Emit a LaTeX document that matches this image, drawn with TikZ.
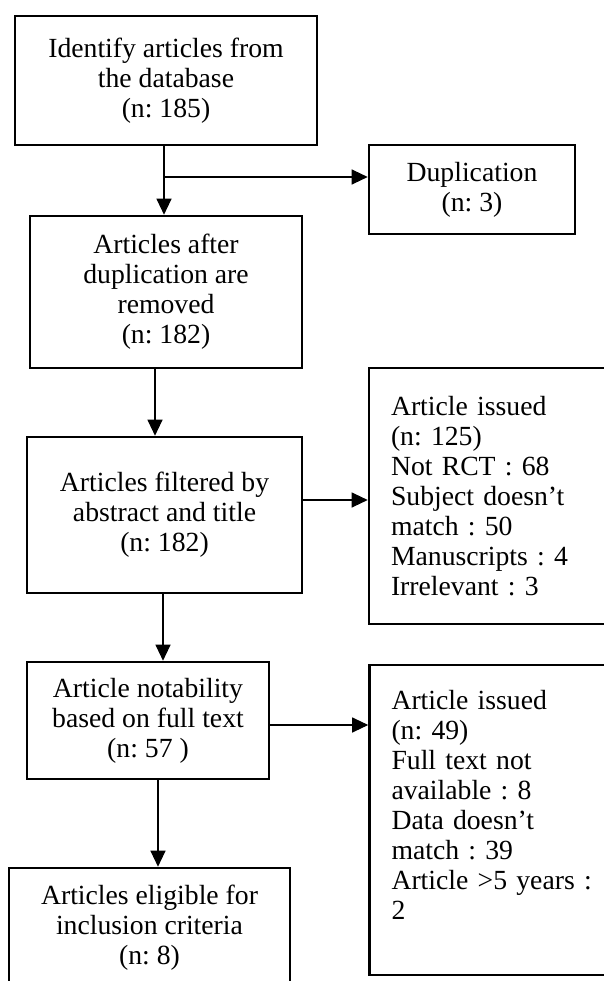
\documentclass[tikz,border=0pt]{standalone}
\usepackage{fontspec}
\setmainfont{Liberation Serif}
\frenchspacing
\usetikzlibrary{arrows.meta}
\tikzset{
  box/.style={draw=black, line width=2.6pt, rectangle, inner sep=0pt, align=center,
    font=\fontsize{27.7}{30}\selectfont\frenchspacing},
  lbox/.style={box, align=left, inner xsep=22pt, text width=215pt},
  arr/.style={draw=black, line width=1.1pt, -{Triangle[length=16pt,width=15pt]}}
}
\begin{document}
\begin{tikzpicture}[x=1pt,y=-1pt]
\useasboundingbox (0,0) rectangle (604,981);
\clip (0,0) rectangle (604,981);
\fill[white] (0,0) rectangle (604,981);

\node[box, minimum width=302pt, minimum height=129pt] (b1) at (166,80.5)
  {Identify articles from\\the database\\(n: 185)};
\node[box, minimum width=206pt, minimum height=89pt] (dup) at (472,189.5)
  {Duplication\\(n: 3)};
\node[box, minimum width=272pt, minimum height=152pt] (b2) at (166,292)
  {Articles after\\duplication are\\removed\\(n: 182)};
\node[box, minimum width=275pt, minimum height=156pt] (b3) at (164.5,515)
  {Articles filtered by\\abstract and title\\(n: 182)};
\node[lbox, minimum height=256pt] (b4) at (498.5,496)
  {Article issued\\(n: 125)\\Not RCT : 68\\Subject doesn’t\\match : 50\\Manuscripts : 4\\Irrelevant : 3};
\node[box, minimum width=242pt, minimum height=117pt] (b5) at (148,720.5)
  {Article notability\\based on full text\\(n: 57 )};
\node[lbox, minimum height=310pt] (b6) at (499,820)
  {Article issued\\(n: 49)\\Full text not\\available : 8\\Data doesn’t\\match : 39\\Article >5 years :\\2\\\mbox{}};
\node[box, minimum width=281pt, minimum height=120pt] (b7) at (149.5,928)
  {Articles eligible for\\inclusion criteria\\(n: 8)};

\coordinate (x1) at (164,0);
\coordinate (j1) at (164,177);
\coordinate (x2) at (155,0);
\coordinate (y3) at (0,500);
\coordinate (x4) at (163,0);
\coordinate (y5) at (0,725);
\coordinate (x6) at (158,0);

\draw[arr] (b1.south -| x1) -- (b2.north -| x1);
\draw[arr] (j1) -- (j1 -| dup.west);
\draw[arr] (b2.south -| x2) -- (b3.north -| x2);
\draw[arr] (b3.east |- y3) -- (b4.west |- y3);
\draw[arr] (b3.south -| x4) -- (b5.north -| x4);
\draw[arr] (b5.east |- y5) -- (b6.west |- y5);
\draw[arr] (b5.south -| x6) -- (b7.north -| x6);
\end{tikzpicture}
\end{document}
